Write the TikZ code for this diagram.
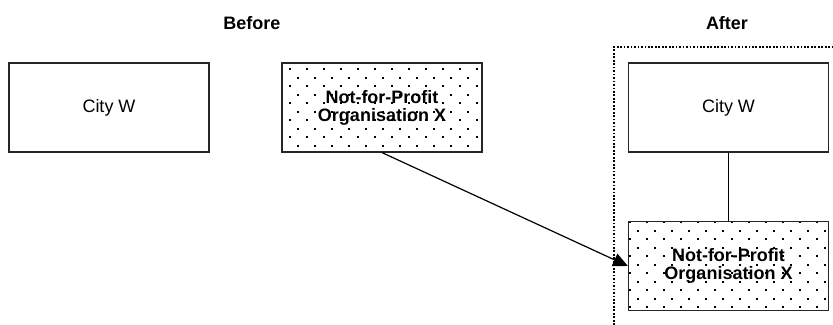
\documentclass[tikz,border=0pt]{standalone}
\usepackage{fontspec}
\setmainfont{Liberation Sans}
\usepackage{tikz}
\usetikzlibrary{positioning, arrows.meta, patterns.meta}

\tikzdeclarepattern{
  name=orgdots,
  bounding box={(0pt,0pt) and (12.75pt,12.75pt)},
  tile size={(12.75pt,12.75pt)},
  code={
    \fill (0pt,0pt) rectangle (1.4pt,1.4pt);
    \fill (6.375pt,6.375pt) rectangle (7.775pt,7.775pt);
  }
}

\begin{document}
\begin{tikzpicture}[x=0.75pt,y=-0.75pt,node distance=30mm,on grid,
    font=\fontsize{13.5pt}{13.5pt}\selectfont,
    entity/.style={draw=black!85, line width=0.9pt, minimum width=150pt, minimum height=66.75pt, inner sep=0pt},
    dotted entity/.style={entity, pattern=orgdots, font=\fontsize{13.5pt}{13.5pt}\selectfont\bfseries, align=center},
    heading/.style={font=\fontsize{13.5pt}{13.5pt}\selectfont\bfseries}]
        \useasboundingbox (0,0) rectangle (833,325);

        \node[entity] (cityA) at (109,107.5) {City W};
        \node[dotted entity] (orgB) [right=204.75pt of cityA] {Not-for-Profit\\Organisation X};
        \node[entity] (cityC) [right=259.875pt of orgB] {City W};
        \node[dotted entity] (orgD) [below=118.875pt of cityC] {Not-for-Profit\\Organisation X};

        \node[heading] (before) at (252,23) {Before};
        \node[heading] (after) at (727,23) {After};

        % dotted frame round the new structure
        \coordinate (frameBL) at (614,325);
        \coordinate (frameTL) at (614,47);
        \coordinate (frameTR) at (833,47);
        \draw[line width=2.1pt, dash pattern=on 1.3pt off 1.3pt] (frameBL) -- (frameTL) -- (frameTR);

        \draw[line width=0.9pt] (cityC) -- (orgD);
        \draw[line width=0.9pt, -{Triangle[length=11pt,width=10pt]}] (orgB.south) -- (orgD.west);

    \end{tikzpicture}
\end{document}
